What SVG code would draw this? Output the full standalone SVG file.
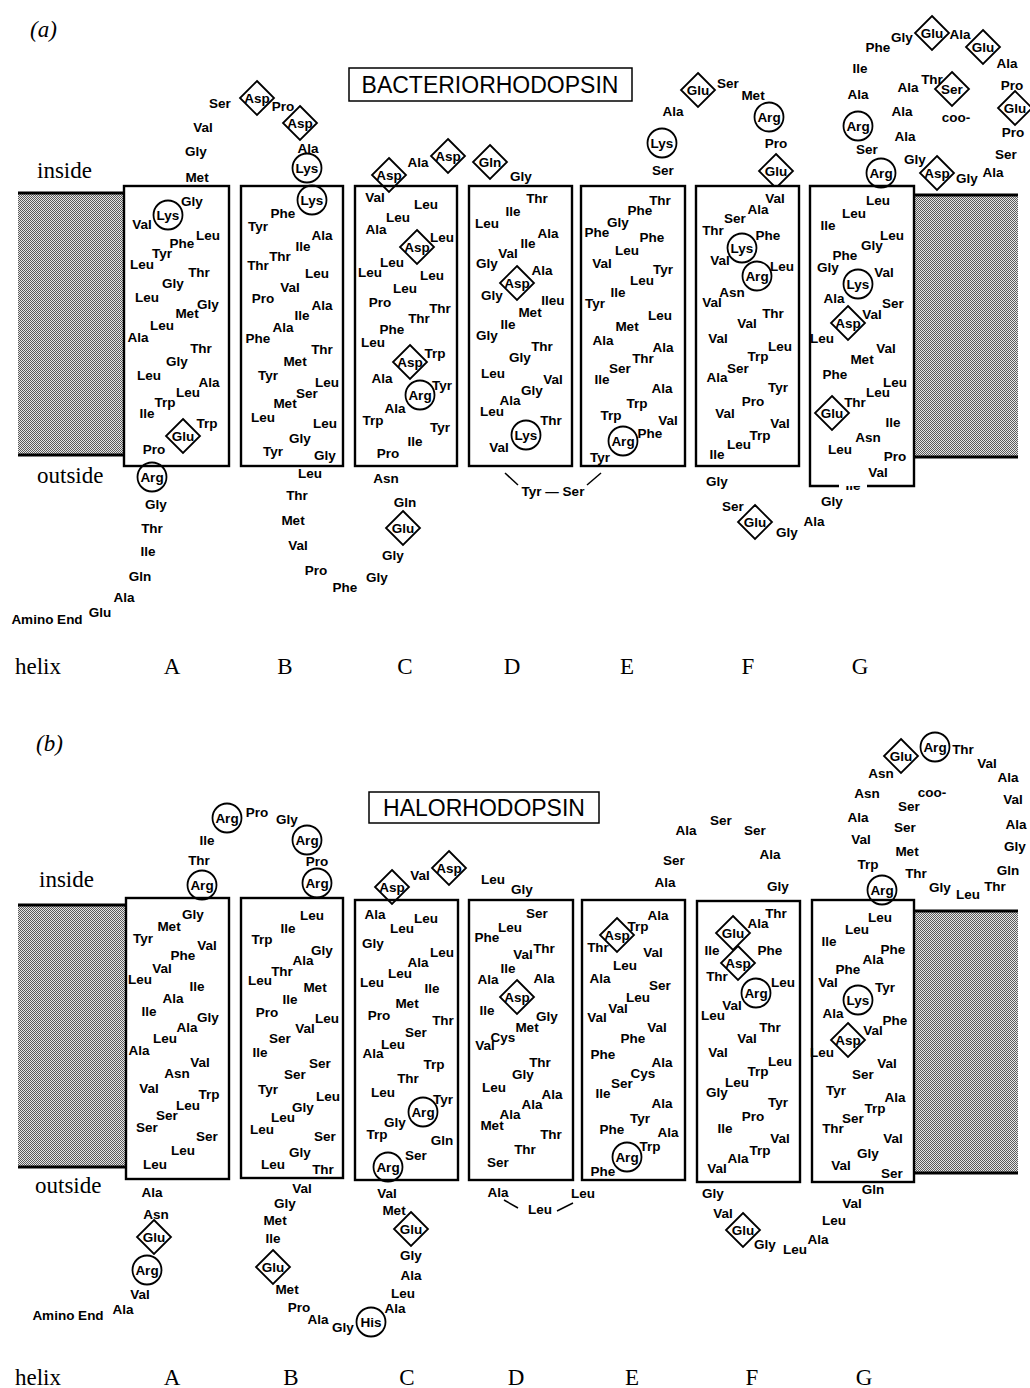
<svg xmlns="http://www.w3.org/2000/svg" xmlns:xlink="http://www.w3.org/1999/xlink" width="1030" height="1388" viewBox="0 0 1030 1388">
<style>
.r text{font-family:"Liberation Sans",Arial,sans-serif;font-weight:bold;font-size:13.5px;text-anchor:middle;fill:#000}
.box{fill:#fff;stroke:#000;stroke-width:2.4}
.ci{fill:none;stroke:#000;stroke-width:1.8}
.di{fill:none;stroke:#000;stroke-width:1.8}
.mem{fill:url(#dots)}
.edge{stroke:#000;stroke-width:2.8}
.lbl{font-family:"Liberation Serif","Times New Roman",serif;font-size:23px;fill:#000}
.ttl{font-family:"Liberation Sans",Arial,sans-serif;font-size:23px;text-anchor:middle;fill:#000}
.tbox{fill:#fff;stroke:#000;stroke-width:1.5}
.con{stroke:#000;stroke-width:1.5;fill:none}
</style>
<defs>
<pattern id="dots" width="2" height="2" patternUnits="userSpaceOnUse"><rect width="2" height="2" fill="#e6e6e6"/><rect width="1" height="1" fill="#5a5a5a"/><rect x="1" y="1" width="1" height="1" fill="#5a5a5a"/></pattern>
<path id="dm" class="di" d="M0,-17 L17,0 L0,17 L-17,0 Z"/>
</defs>
<rect width="1030" height="1388" fill="#fff"/>

<!-- ================= PART A ================= -->
<g id="a-labels">
<text class="lbl" x="30" y="37" font-style="italic">(a)</text>
<text class="lbl" x="37" y="178">inside</text>
<text class="lbl" x="37" y="483">outside</text>
<text class="lbl" x="15" y="674">helix</text>
<text class="lbl" x="172" y="674" text-anchor="middle">A</text>
<text class="lbl" x="285" y="674" text-anchor="middle">B</text>
<text class="lbl" x="405" y="674" text-anchor="middle">C</text>
<text class="lbl" x="512" y="674" text-anchor="middle">D</text>
<text class="lbl" x="627" y="674" text-anchor="middle">E</text>
<text class="lbl" x="748" y="674" text-anchor="middle">F</text>
<text class="lbl" x="860" y="674" text-anchor="middle">G</text>
</g>
<g id="a-title"><rect class="tbox" x="349" y="68" width="283" height="33"/><text class="ttl" x="490" y="93">BACTERIORHODOPSIN</text></g>
<g id="a-membrane">
<rect class="mem" x="18" y="193" width="106" height="262"/>
<line class="edge" x1="18" y1="193" x2="124" y2="193"/><line class="edge" x1="18" y1="455" x2="124" y2="455"/>
<rect class="mem" x="914" y="195" width="104" height="262"/>
<line class="edge" x1="914" y1="195" x2="1018" y2="195"/><line class="edge" x1="914" y1="457" x2="1018" y2="457"/>
</g>

<g id="a-helixA" class="r">
<rect class="box" x="124" y="186" width="105" height="280"/>
<circle class="ci" cx="168" cy="215" r="14.5"/><use href="#dm" x="183" y="436"/>
<text x="168" y="220">Lys</text><text x="192" y="206">Gly</text><text x="142" y="229">Val</text><text x="208" y="240">Leu</text><text x="182" y="248">Phe</text><text x="162" y="258">Tyr</text><text x="142" y="269">Leu</text><text x="199" y="277">Thr</text><text x="173" y="288">Gly</text><text x="147" y="302">Leu</text><text x="208" y="309">Gly</text><text x="187" y="318">Met</text><text x="162" y="330">Leu</text><text x="138" y="342">Ala</text><text x="201" y="353">Thr</text><text x="177" y="366">Gly</text><text x="149" y="380">Leu</text><text x="209" y="387">Ala</text><text x="188" y="397">Leu</text><text x="165" y="407">Trp</text><text x="147" y="418">Ile</text><text x="207" y="428">Trp</text><text x="183" y="441">Glu</text><text x="154" y="454">Pro</text>
</g>
<g id="a-nterm" class="r">
<circle class="ci" cx="152" cy="477" r="14.5"/>
<text x="152" y="482">Arg</text><text x="156" y="509">Gly</text><text x="152" y="533">Thr</text><text x="148" y="556">Ile</text><text x="140" y="581">Gln</text><text x="124" y="602">Ala</text><text x="100" y="617">Glu</text><text x="47" y="624">Amino End</text>
</g>
<g id="a-loopAB" class="r">
<use href="#dm" x="257" y="98"/><use href="#dm" x="300" y="123"/><circle class="ci" cx="307" cy="168" r="14.5"/>
<text x="197" y="182">Met</text><text x="196" y="156">Gly</text><text x="203" y="132">Val</text><text x="220" y="108">Ser</text><text x="257" y="103">Asp</text><text x="283" y="111">Pro</text><text x="300" y="128">Asp</text><text x="308" y="153">Ala</text><text x="307" y="173">Lys</text>
</g>
<g id="a-helixB" class="r">
<rect class="box" x="241" y="186" width="102" height="280"/>
<circle class="ci" cx="312" cy="200" r="14.5"/>
<text x="312" y="205">Lys</text><text x="283" y="218">Phe</text><text x="258" y="231">Tyr</text><text x="322" y="240">Ala</text><text x="303" y="251">Ile</text><text x="280" y="261">Thr</text><text x="258" y="270">Thr</text><text x="317" y="278">Leu</text><text x="290" y="292">Val</text><text x="263" y="303">Pro</text><text x="322" y="310">Ala</text><text x="302" y="320">Ile</text><text x="283" y="332">Ala</text><text x="258" y="343">Phe</text><text x="322" y="354">Thr</text><text x="295" y="366">Met</text><text x="268" y="380">Tyr</text><text x="327" y="387">Leu</text><text x="307" y="398">Ser</text><text x="285" y="408">Met</text><text x="263" y="422">Leu</text><text x="325" y="428">Leu</text><text x="300" y="443">Gly</text><text x="273" y="456">Tyr</text><text x="325" y="460">Gly</text>
</g>
<g id="a-loopBC" class="r">
<use href="#dm" x="403" y="528"/>
<text x="310" y="478">Leu</text><text x="297" y="500">Thr</text><text x="293" y="525">Met</text><text x="298" y="550">Val</text><text x="316" y="575">Pro</text><text x="345" y="592">Phe</text><text x="377" y="582">Gly</text><text x="393" y="560">Gly</text><text x="403" y="533">Glu</text><text x="405" y="507">Gln</text><text x="386" y="483">Asn</text>
</g>
<g id="a-helixC" class="r">
<rect class="box" x="355" y="186" width="102" height="280"/>
<use href="#dm" x="417" y="247"/><use href="#dm" x="410" y="362"/><circle class="ci" cx="420" cy="395" r="14.5"/>
<text x="375" y="202">Val</text><text x="426" y="209">Leu</text><text x="398" y="222">Leu</text><text x="376" y="234">Ala</text><text x="442" y="242">Leu</text><text x="417" y="252">Asp</text><text x="392" y="267">Leu</text><text x="370" y="277">Leu</text><text x="432" y="280">Leu</text><text x="405" y="293">Leu</text><text x="380" y="307">Pro</text><text x="440" y="313">Thr</text><text x="419" y="323">Thr</text><text x="392" y="334">Phe</text><text x="373" y="347">Leu</text><text x="435" y="358">Trp</text><text x="410" y="367">Asp</text><text x="382" y="383">Ala</text><text x="442" y="390">Tyr</text><text x="420" y="400">Arg</text><text x="395" y="413">Ala</text><text x="373" y="425">Trp</text><text x="440" y="432">Tyr</text><text x="415" y="446">Ile</text><text x="388" y="458">Pro</text>
</g>
<g id="a-loopCD" class="r">
<use href="#dm" x="389" y="175"/><use href="#dm" x="448" y="156"/><use href="#dm" x="490" y="162"/>
<text x="389" y="180">Asp</text><text x="418" y="167">Ala</text><text x="448" y="161">Asp</text><text x="490" y="167">Gln</text><text x="521" y="181">Gly</text>
</g>
<g id="a-helixD" class="r">
<rect class="box" x="469" y="186" width="103" height="280"/>
<use href="#dm" x="517" y="283"/><circle class="ci" cx="526" cy="435" r="14.5"/>
<text x="537" y="203">Thr</text><text x="513" y="216">Ile</text><text x="487" y="228">Leu</text><text x="548" y="238">Ala</text><text x="528" y="248">Ile</text><text x="508" y="258">Val</text><text x="487" y="268">Gly</text><text x="542" y="275">Ala</text><text x="517" y="288">Asp</text><text x="492" y="300">Gly</text><text x="553" y="305">Ileu</text><text x="530" y="317">Met</text><text x="508" y="329">Ile</text><text x="487" y="340">Gly</text><text x="542" y="351">Thr</text><text x="520" y="362">Gly</text><text x="493" y="378">Leu</text><text x="553" y="384">Val</text><text x="532" y="395">Gly</text><text x="510" y="405">Ala</text><text x="492" y="416">Leu</text><text x="551" y="425">Thr</text><text x="526" y="440">Lys</text><text x="499" y="452">Val</text>
</g>
<g id="a-loopDE" class="r">
<text x="553" y="496">Tyr — Ser</text>
</g>
<g id="a-helixE" class="r">
<rect class="box" x="581" y="186" width="104" height="280"/>
<circle class="ci" cx="623" cy="441" r="14.5"/>
<text x="660" y="205">Thr</text><text x="640" y="215">Phe</text><text x="618" y="227">Gly</text><text x="597" y="237">Phe</text><text x="652" y="242">Phe</text><text x="627" y="255">Leu</text><text x="602" y="268">Val</text><text x="663" y="274">Tyr</text><text x="642" y="285">Leu</text><text x="618" y="297">Ile</text><text x="595" y="308">Tyr</text><text x="660" y="320">Leu</text><text x="627" y="331">Met</text><text x="603" y="345">Ala</text><text x="663" y="352">Ala</text><text x="643" y="363">Thr</text><text x="620" y="373">Ser</text><text x="602" y="384">Ile</text><text x="662" y="393">Ala</text><text x="637" y="408">Trp</text><text x="611" y="420">Trp</text><text x="668" y="425">Val</text><text x="650" y="438">Phe</text><text x="623" y="446">Arg</text><text x="600" y="462">Tyr</text>
</g>
<g id="a-loopEF" class="r">
<circle class="ci" cx="662" cy="143" r="14.5"/><use href="#dm" x="698" y="90"/><circle class="ci" cx="769" cy="117" r="14.5"/><use href="#dm" x="776" y="171"/>
<text x="663" y="175">Ser</text><text x="662" y="148">Lys</text><text x="673" y="116">Ala</text><text x="698" y="95">Glu</text><text x="728" y="88">Ser</text><text x="753" y="100">Met</text><text x="769" y="122">Arg</text><text x="776" y="148">Pro</text><text x="776" y="176">Glu</text>
</g>
<g id="a-helixF" class="r">
<rect class="box" x="696" y="186" width="103" height="280"/>
<circle class="ci" cx="742" cy="248" r="14.5"/><circle class="ci" cx="757" cy="276" r="14.5"/>
<text x="775" y="203">Val</text><text x="758" y="214">Ala</text><text x="735" y="223">Ser</text><text x="713" y="235">Thr</text><text x="768" y="240">Phe</text><text x="742" y="253">Lys</text><text x="720" y="265">Val</text><text x="782" y="271">Leu</text><text x="757" y="281">Arg</text><text x="732" y="297">Asn</text><text x="712" y="307">Val</text><text x="773" y="318">Thr</text><text x="747" y="328">Val</text><text x="718" y="343">Val</text><text x="780" y="351">Leu</text><text x="758" y="361">Trp</text><text x="738" y="373">Ser</text><text x="717" y="382">Ala</text><text x="778" y="392">Tyr</text><text x="753" y="406">Pro</text><text x="725" y="418">Val</text><text x="780" y="428">Val</text><text x="760" y="440">Trp</text><text x="739" y="449">Leu</text><text x="717" y="459">Ile</text>
</g>
<g id="a-loopFG" class="r">
<use href="#dm" x="755" y="522"/>
<text x="717" y="486">Gly</text><text x="733" y="511">Ser</text><text x="755" y="527">Glu</text><text x="787" y="537">Gly</text><text x="814" y="526">Ala</text><text x="832" y="506">Gly</text><text x="853" y="490">Ile</text>
</g>
<g id="a-helixG" class="r">
<path class="box" d="M839,486 H810 V186 H914 V486 H867"/>
<circle class="ci" cx="881" cy="173" r="14.5"/><circle class="ci" cx="858" cy="284" r="14.5"/><use href="#dm" x="848" y="323"/><use href="#dm" x="832" y="413"/>
<text x="881" y="178">Arg</text><text x="878" y="205">Leu</text><text x="854" y="218">Leu</text><text x="828" y="230">Ile</text><text x="892" y="240">Leu</text><text x="872" y="250">Gly</text><text x="845" y="260">Phe</text><text x="828" y="272">Gly</text><text x="884" y="277">Val</text><text x="858" y="289">Lys</text><text x="834" y="303">Ala</text><text x="893" y="308">Ser</text><text x="872" y="319">Val</text><text x="848" y="328">Asp</text><text x="822" y="343">Leu</text><text x="886" y="353">Val</text><text x="862" y="364">Met</text><text x="835" y="379">Phe</text><text x="895" y="387">Leu</text><text x="878" y="397">Leu</text><text x="855" y="407">Thr</text><text x="832" y="418">Glu</text><text x="893" y="427">Ile</text><text x="868" y="442">Asn</text><text x="840" y="454">Leu</text><text x="895" y="461">Pro</text><text x="878" y="477">Val</text>
</g>
<g id="a-cterm" class="r">
<circle class="ci" cx="858" cy="126" r="14.5"/><use href="#dm" x="932" y="33"/><use href="#dm" x="983" y="47"/><use href="#dm" x="1015" y="108"/><use href="#dm" x="937" y="173"/><use href="#dm" x="952" y="89"/>
<text x="867" y="154">Ser</text><text x="858" y="131">Arg</text><text x="858" y="99">Ala</text><text x="860" y="73">Ile</text><text x="878" y="52">Phe</text><text x="902" y="42">Gly</text><text x="932" y="38">Glu</text><text x="960" y="39">Ala</text><text x="983" y="52">Glu</text><text x="1007" y="68">Ala</text><text x="1012" y="90">Pro</text><text x="1015" y="113">Glu</text><text x="1013" y="137">Pro</text><text x="1006" y="159">Ser</text><text x="993" y="177">Ala</text><text x="967" y="183">Gly</text><text x="937" y="178">Asp</text><text x="915" y="164">Gly</text><text x="905" y="141">Ala</text><text x="902" y="116">Ala</text><text x="908" y="92">Ala</text><text x="932" y="84">Thr</text><text x="952" y="94">Ser</text><text x="956" y="122">coo-</text>
</g>

<!-- ================= PART B ================= -->
<g id="b-labels">
<text class="lbl" x="36" y="751" font-style="italic">(b)</text>
<text class="lbl" x="39" y="887">inside</text>
<text class="lbl" x="35" y="1193">outside</text>
<text class="lbl" x="15" y="1385">helix</text>
<text class="lbl" x="172" y="1385" text-anchor="middle">A</text>
<text class="lbl" x="291" y="1385" text-anchor="middle">B</text>
<text class="lbl" x="407" y="1385" text-anchor="middle">C</text>
<text class="lbl" x="516" y="1385" text-anchor="middle">D</text>
<text class="lbl" x="632" y="1385" text-anchor="middle">E</text>
<text class="lbl" x="752" y="1385" text-anchor="middle">F</text>
<text class="lbl" x="864" y="1385" text-anchor="middle">G</text>
</g>
<g id="b-title"><rect class="tbox" x="369" y="792" width="230" height="31"/><text class="ttl" x="484" y="816">HALORHODOPSIN</text></g>
<g id="b-membrane">
<rect class="mem" x="18" y="905" width="108" height="262"/>
<line class="edge" x1="18" y1="905" x2="126" y2="905"/><line class="edge" x1="18" y1="1167" x2="126" y2="1167"/>
<rect class="mem" x="914" y="911" width="104" height="262"/>
<line class="edge" x1="914" y1="911" x2="1018" y2="911"/><line class="edge" x1="914" y1="1173" x2="1018" y2="1173"/>
</g>

<g id="b-helixA" class="r">
<rect class="box" x="126" y="898" width="103" height="281"/>
<text x="193" y="919">Gly</text><text x="169" y="931">Met</text><text x="143" y="943">Tyr</text><text x="207" y="950">Val</text><text x="183" y="960">Phe</text><text x="162" y="973">Val</text><text x="140" y="984">Leu</text><text x="197" y="991">Ile</text><text x="173" y="1003">Ala</text><text x="149" y="1016">Ile</text><text x="208" y="1022">Gly</text><text x="187" y="1032">Ala</text><text x="165" y="1043">Leu</text><text x="139" y="1055">Ala</text><text x="200" y="1067">Val</text><text x="177" y="1078">Asn</text><text x="149" y="1093">Val</text><text x="209" y="1099">Trp</text><text x="188" y="1110">Leu</text><text x="167" y="1120">Ser</text><text x="147" y="1132">Ser</text><text x="207" y="1141">Ser</text><text x="183" y="1155">Leu</text><text x="155" y="1169">Leu</text>
</g>
<g id="b-nterm" class="r">
<use href="#dm" x="154" y="1237"/><circle class="ci" cx="147" cy="1270" r="14.5"/>
<text x="152" y="1197">Ala</text><text x="156" y="1219">Asn</text><text x="154" y="1242">Glu</text><text x="147" y="1275">Arg</text><text x="140" y="1299">Val</text><text x="123" y="1314">Ala</text><text x="68" y="1320">Amino End</text>
</g>
<g id="b-loopAB" class="r">
<circle class="ci" cx="202" cy="885" r="14.5"/><circle class="ci" cx="227" cy="818" r="14.5"/><circle class="ci" cx="307" cy="840" r="14.5"/><circle class="ci" cx="317" cy="883" r="14.5"/>
<text x="202" y="890">Arg</text><text x="199" y="865">Thr</text><text x="207" y="845">Ile</text><text x="227" y="823">Arg</text><text x="257" y="817">Pro</text><text x="287" y="824">Gly</text><text x="307" y="845">Arg</text><text x="317" y="866">Pro</text><text x="317" y="888">Arg</text>
</g>
<g id="b-helixB" class="r">
<rect class="box" x="241" y="898" width="102" height="280"/>
<text x="312" y="920">Leu</text><text x="288" y="933">Ile</text><text x="262" y="944">Trp</text><text x="322" y="955">Gly</text><text x="303" y="965">Ala</text><text x="282" y="976">Thr</text><text x="260" y="985">Leu</text><text x="315" y="992">Met</text><text x="290" y="1004">Ile</text><text x="267" y="1017">Pro</text><text x="327" y="1023">Leu</text><text x="305" y="1033">Val</text><text x="280" y="1043">Ser</text><text x="260" y="1057">Ile</text><text x="320" y="1068">Ser</text><text x="295" y="1079">Ser</text><text x="268" y="1094">Tyr</text><text x="328" y="1101">Leu</text><text x="303" y="1112">Gly</text><text x="283" y="1122">Leu</text><text x="262" y="1134">Leu</text><text x="325" y="1141">Ser</text><text x="300" y="1157">Gly</text><text x="273" y="1169">Leu</text><text x="323" y="1174">Thr</text>
</g>
<g id="b-loopBC" class="r">
<use href="#dm" x="273" y="1267"/><circle class="ci" cx="371" cy="1322" r="14.5"/><use href="#dm" x="411" y="1229"/>
<text x="302" y="1193">Val</text><text x="285" y="1208">Gly</text><text x="275" y="1225">Met</text><text x="273" y="1243">Ile</text><text x="273" y="1272">Glu</text><text x="287" y="1294">Met</text><text x="299" y="1312">Pro</text><text x="318" y="1324">Ala</text><text x="343" y="1332">Gly</text><text x="371" y="1327">His</text><text x="395" y="1313">Ala</text><text x="403" y="1298">Leu</text><text x="411" y="1280">Ala</text><text x="411" y="1260">Gly</text><text x="411" y="1234">Glu</text><text x="394" y="1215">Met</text><text x="387" y="1198">Val</text>
</g>
<g id="b-helixC" class="r">
<rect class="box" x="355" y="900" width="103" height="280"/>
<circle class="ci" cx="423" cy="1112" r="14.5"/><circle class="ci" cx="388" cy="1167" r="14.5"/>
<text x="375" y="919">Ala</text><text x="426" y="923">Leu</text><text x="402" y="933">Leu</text><text x="373" y="948">Gly</text><text x="442" y="957">Leu</text><text x="418" y="967">Ala</text><text x="400" y="978">Leu</text><text x="372" y="987">Leu</text><text x="432" y="993">Ile</text><text x="407" y="1008">Met</text><text x="379" y="1020">Pro</text><text x="443" y="1025">Thr</text><text x="416" y="1037">Ser</text><text x="393" y="1049">Leu</text><text x="373" y="1058">Ala</text><text x="434" y="1069">Trp</text><text x="408" y="1083">Thr</text><text x="383" y="1097">Leu</text><text x="443" y="1104">Tyr</text><text x="423" y="1117">Arg</text><text x="395" y="1127">Gly</text><text x="377" y="1139">Trp</text><text x="442" y="1145">Gln</text><text x="416" y="1160">Ser</text><text x="388" y="1172">Arg</text>
</g>
<g id="b-loopCD" class="r">
<use href="#dm" x="392" y="887"/><use href="#dm" x="449" y="868"/>
<text x="392" y="892">Asp</text><text x="420" y="880">Val</text><text x="449" y="873">Asp</text><text x="493" y="884">Leu</text><text x="522" y="894">Gly</text>
</g>
<g id="b-helixD" class="r">
<rect class="box" x="469" y="900" width="104" height="280"/>
<use href="#dm" x="517" y="997"/>
<text x="537" y="918">Ser</text><text x="510" y="932">Leu</text><text x="487" y="942">Phe</text><text x="544" y="953">Thr</text><text x="523" y="959">Val</text><text x="508" y="973">Ile</text><text x="488" y="984">Ala</text><text x="544" y="983">Ala</text><text x="517" y="1002">Asp</text><text x="487" y="1015">Ile</text><text x="547" y="1021">Gly</text><text x="527" y="1032">Met</text><text x="503" y="1042">Cys</text><text x="485" y="1050">Val</text><text x="540" y="1067">Thr</text><text x="523" y="1079">Gly</text><text x="494" y="1092">Leu</text><text x="552" y="1099">Ala</text><text x="532" y="1109">Ala</text><text x="510" y="1119">Ala</text><text x="492" y="1130">Met</text><text x="551" y="1139">Thr</text><text x="525" y="1154">Thr</text><text x="498" y="1167">Ser</text>
</g>
<g id="b-loopDE" class="r">
<text x="498" y="1197">Ala</text><text x="540" y="1214">Leu</text><text x="583" y="1198">Leu</text>
</g>
<g id="b-helixE" class="r">
<rect class="box" x="582" y="900" width="103" height="280"/>
<use href="#dm" x="617" y="935"/><circle class="ci" cx="627" cy="1157" r="14.5"/>
<text x="658" y="920">Ala</text><text x="638" y="931">Trp</text><text x="617" y="940">Asp</text><text x="598" y="952">Thr</text><text x="653" y="957">Val</text><text x="625" y="970">Leu</text><text x="600" y="983">Ala</text><text x="660" y="990">Ser</text><text x="638" y="1002">Leu</text><text x="618" y="1013">Val</text><text x="597" y="1022">Val</text><text x="657" y="1032">Val</text><text x="633" y="1043">Phe</text><text x="603" y="1059">Phe</text><text x="662" y="1067">Ala</text><text x="643" y="1078">Cys</text><text x="622" y="1088">Ser</text><text x="603" y="1098">Ile</text><text x="662" y="1108">Ala</text><text x="640" y="1123">Tyr</text><text x="612" y="1134">Phe</text><text x="668" y="1137">Ala</text><text x="650" y="1151">Trp</text><text x="627" y="1162">Arg</text><text x="603" y="1176">Phe</text>
</g>
<g id="b-loopEF" class="r">
<text x="665" y="887">Ala</text><text x="674" y="865">Ser</text><text x="686" y="835">Ala</text><text x="721" y="825">Ser</text><text x="755" y="835">Ser</text><text x="770" y="859">Ala</text><text x="778" y="891">Gly</text>
</g>
<g id="b-helixF" class="r">
<rect class="box" x="697" y="901" width="103" height="281"/>
<use href="#dm" x="733" y="933"/><use href="#dm" x="738" y="963"/><circle class="ci" cx="756" cy="993" r="14.5"/>
<text x="776" y="918">Thr</text><text x="758" y="928">Ala</text><text x="733" y="938">Glu</text><text x="712" y="955">Ile</text><text x="770" y="955">Phe</text><text x="738" y="968">Asp</text><text x="717" y="981">Thr</text><text x="783" y="987">Leu</text><text x="756" y="998">Arg</text><text x="732" y="1010">Val</text><text x="713" y="1020">Leu</text><text x="770" y="1032">Thr</text><text x="747" y="1043">Val</text><text x="718" y="1057">Val</text><text x="780" y="1066">Leu</text><text x="758" y="1076">Trp</text><text x="737" y="1087">Leu</text><text x="717" y="1097">Gly</text><text x="778" y="1107">Tyr</text><text x="753" y="1121">Pro</text><text x="725" y="1133">Ile</text><text x="780" y="1143">Val</text><text x="760" y="1155">Trp</text><text x="738" y="1163">Ala</text><text x="717" y="1173">Val</text>
</g>
<g id="b-loopFG" class="r">
<use href="#dm" x="743" y="1230"/>
<text x="713" y="1198">Gly</text><text x="723" y="1218">Val</text><text x="743" y="1235">Glu</text><text x="765" y="1249">Gly</text><text x="795" y="1254">Leu</text><text x="818" y="1244">Ala</text><text x="834" y="1225">Leu</text><text x="852" y="1208">Val</text><text x="873" y="1194">Gln</text>
</g>
<g id="b-helixG" class="r">
<rect class="box" x="812" y="900" width="102" height="282"/>
<circle class="ci" cx="882" cy="890" r="14.5"/><circle class="ci" cx="858" cy="1000" r="14.5"/><use href="#dm" x="848" y="1040"/>
<text x="882" y="895">Arg</text><text x="880" y="922">Leu</text><text x="857" y="934">Leu</text><text x="829" y="946">Ile</text><text x="893" y="954">Phe</text><text x="873" y="964">Ala</text><text x="848" y="974">Phe</text><text x="828" y="987">Val</text><text x="885" y="992">Tyr</text><text x="858" y="1005">Lys</text><text x="833" y="1018">Ala</text><text x="895" y="1025">Phe</text><text x="873" y="1035">Val</text><text x="848" y="1045">Asp</text><text x="822" y="1057">Leu</text><text x="887" y="1068">Val</text><text x="863" y="1079">Ser</text><text x="836" y="1095">Tyr</text><text x="895" y="1102">Ala</text><text x="875" y="1113">Trp</text><text x="853" y="1123">Ser</text><text x="833" y="1133">Thr</text><text x="893" y="1143">Val</text><text x="868" y="1158">Gly</text><text x="841" y="1170">Val</text><text x="892" y="1178">Ser</text>
</g>
<g id="b-cterm" class="r">
<use href="#dm" x="901" y="756"/><circle class="ci" cx="935" cy="747" r="14.5"/>
<text x="868" y="869">Trp</text><text x="861" y="844">Val</text><text x="858" y="822">Ala</text><text x="867" y="798">Asn</text><text x="881" y="778">Asn</text><text x="901" y="761">Glu</text><text x="935" y="752">Arg</text><text x="963" y="754">Thr</text><text x="987" y="768">Val</text><text x="1008" y="782">Ala</text><text x="1013" y="804">Val</text><text x="1016" y="829">Ala</text><text x="1015" y="851">Gly</text><text x="1008" y="875">Gln</text><text x="995" y="891">Thr</text><text x="968" y="899">Leu</text><text x="940" y="892">Gly</text><text x="916" y="878">Thr</text><text x="907" y="856">Met</text><text x="905" y="832">Ser</text><text x="909" y="811">Ser</text><text x="932" y="797">coo-</text>
</g>

<g id="connectors">
<line class="con" x1="505" y1="473" x2="518" y2="485"/>
<line class="con" x1="601" y1="473" x2="587" y2="485"/>
<line class="con" x1="504" y1="1200" x2="518" y2="1208"/>
<line class="con" x1="557" y1="1211" x2="573" y2="1203"/>
</g>
</svg>
